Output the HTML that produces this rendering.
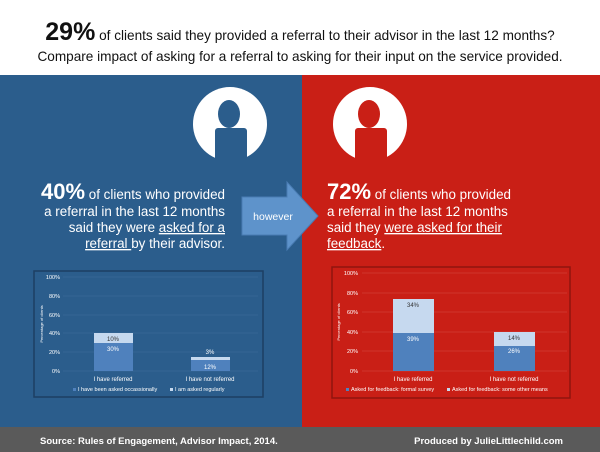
<!DOCTYPE html>
<html><head><meta charset="utf-8"><style>
html,body{margin:0;padding:0;background:#fff}
svg{display:block}
</style></head><body>
<svg width="600" height="452" viewBox="0 0 600 452" xmlns="http://www.w3.org/2000/svg" font-family="Liberation Sans, Arial, sans-serif">
<rect width="600" height="452" fill="#fff"/>
<text x="300" y="40" text-anchor="middle" font-size="13.6" fill="#111"><tspan font-size="25" font-weight="bold">29%</tspan> of clients said they provided a referral to their advisor in the last 12 months?</text>
<text x="300" y="61" text-anchor="middle" font-size="13.6" fill="#111">Compare impact of asking for a referral to asking for their input on the service provided.</text>
<rect x="0" y="75" width="302" height="352" fill="#2b5d8c"/>
<rect x="302" y="75" width="298" height="352" fill="#c91f16"/>
<rect x="0" y="427" width="600" height="25" fill="#5a5a5a"/>
<text x="40" y="444" font-size="9.5" font-weight="bold" fill="#fff">Source: Rules of Engagement, Advisor Impact, 2014.</text>
<text x="563" y="444" text-anchor="end" font-size="9.5" font-weight="bold" fill="#fff">Produced by JulieLittlechild.com</text>
<defs><clipPath id="c1"><rect x="0" y="75" width="600" height="83"/></clipPath></defs>
<g clip-path="url(#c1)">
<circle cx="230" cy="124" r="37" fill="#fff"/>
<ellipse cx="229" cy="114" rx="11" ry="14" fill="#2b5d8c"/>
<rect x="215" y="128" width="32" height="35" rx="3" fill="#2b5d8c"/>
<circle cx="370" cy="124" r="37" fill="#fff"/>
<ellipse cx="369" cy="114" rx="11" ry="14" fill="#c91f16"/>
<rect x="355" y="128" width="32" height="35" rx="3" fill="#c91f16"/>
</g>
<g fill="#fff" font-size="13.4" text-anchor="end">
<text x="225" y="199"><tspan font-size="22" font-weight="bold">40%</tspan> of clients who provided</text>
<text x="225" y="216">a referral in the last 12 months</text>
<text x="225" y="232">said they were <tspan text-decoration="underline">asked for a</tspan></text>
<text x="225" y="248"><tspan text-decoration="underline">referral </tspan>by their advisor.</text>
</g>
<g fill="#fff" font-size="13.4">
<text x="327" y="199"><tspan font-size="22" font-weight="bold">72%</tspan> of clients who provided</text>
<text x="327" y="216">a referral in the last 12 months</text>
<text x="327" y="232">said they <tspan text-decoration="underline">were asked for their</tspan></text>
<text x="327" y="248"><tspan text-decoration="underline">feedback</tspan>.</text>
</g>
<polygon points="242,197 287,197 287,182 318,216 287,250 287,235 242,235" fill="#5e93cb" stroke="#4a7cb3" stroke-width="1"/>
<text x="273" y="220" text-anchor="middle" font-size="10.5" fill="#fff">however</text>
<!-- left chart -->
<rect x="34" y="271" width="229" height="126" fill="#2b5d8c" stroke="#1d3f63" stroke-width="1.5"/>
<g stroke="#3e6f9e" stroke-width="0.6">
<line x1="63" y1="277" x2="258" y2="277"/><line x1="63" y1="296" x2="258" y2="296"/><line x1="63" y1="315" x2="258" y2="315"/><line x1="63" y1="333" x2="258" y2="333"/><line x1="63" y1="352" x2="258" y2="352"/><line x1="63" y1="371" x2="258" y2="371"/>
</g>
<g fill="#fff" font-size="5.5" text-anchor="end">
<text x="60" y="279">100%</text><text x="60" y="298">80%</text><text x="60" y="317">60%</text><text x="60" y="335">40%</text><text x="60" y="354">20%</text><text x="60" y="373">0%</text>
</g>
<text transform="translate(43,324) rotate(-90)" font-size="4" fill="#fff" text-anchor="middle">Percentage of clients</text>
<rect x="94" y="343" width="39" height="28" fill="#4f81bd"/>
<rect x="94" y="333" width="39" height="10" fill="#c6d9ef"/>
<rect x="191" y="360" width="39" height="11" fill="#4f81bd"/>
<rect x="191" y="357" width="39" height="3" fill="#c6d9ef"/>
<g font-size="6" text-anchor="middle">
<text x="113" y="341" fill="#333">10%</text><text x="113" y="351" fill="#fff">30%</text>
<text x="210" y="354" fill="#fff">3%</text><text x="210" y="369" fill="#fff">12%</text>
<text x="113" y="381" fill="#fff">I have referred</text><text x="210" y="381" fill="#fff">I have not referred</text>
</g>
<rect x="73" y="388" width="3" height="3" fill="#4f81bd"/>
<text x="78" y="391" font-size="5.5" fill="#fff">I have been asked occassionally</text>
<rect x="170" y="388" width="3" height="3" fill="#c6d9ef"/>
<text x="175" y="391" font-size="5.5" fill="#fff">I am asked regularly</text>
<!-- right chart -->
<rect x="332" y="267" width="238" height="131" fill="#c91f16" stroke="#8f150f" stroke-width="1.5"/>
<g stroke="#d84a42" stroke-width="0.6">
<line x1="362" y1="273" x2="567" y2="273"/><line x1="362" y1="293" x2="567" y2="293"/><line x1="362" y1="312" x2="567" y2="312"/><line x1="362" y1="332" x2="567" y2="332"/><line x1="362" y1="351" x2="567" y2="351"/><line x1="362" y1="371" x2="567" y2="371"/>
</g>
<g fill="#fff" font-size="5.5" text-anchor="end">
<text x="358" y="275">100%</text><text x="358" y="295">80%</text><text x="358" y="314">60%</text><text x="358" y="334">40%</text><text x="358" y="353">20%</text><text x="358" y="373">0%</text>
</g>
<text transform="translate(340,322) rotate(-90)" font-size="4" fill="#fff" text-anchor="middle">Percentage of clients</text>
<rect x="393" y="333" width="41" height="38" fill="#4f81bd"/>
<rect x="393" y="299" width="41" height="34" fill="#c6d9ef"/>
<rect x="494" y="346" width="41" height="25" fill="#4f81bd"/>
<rect x="494" y="332" width="41" height="14" fill="#c6d9ef"/>
<g font-size="6" text-anchor="middle">
<text x="413" y="307" fill="#333">34%</text><text x="413" y="341" fill="#fff">39%</text>
<text x="514" y="340" fill="#333">14%</text><text x="514" y="353" fill="#fff">26%</text>
<text x="413" y="381" fill="#fff">I have referred</text><text x="514" y="381" fill="#fff">I have not referred</text>
</g>
<rect x="346" y="388" width="3" height="3" fill="#4f81bd"/>
<text x="351" y="391" font-size="5.5" fill="#fff">Asked for feedback: formal survey</text>
<rect x="447" y="388" width="3" height="3" fill="#c6d9ef"/>
<text x="452" y="391" font-size="5.5" fill="#fff">Asked for feedback: some other means</text>
</svg>
</body></html>
